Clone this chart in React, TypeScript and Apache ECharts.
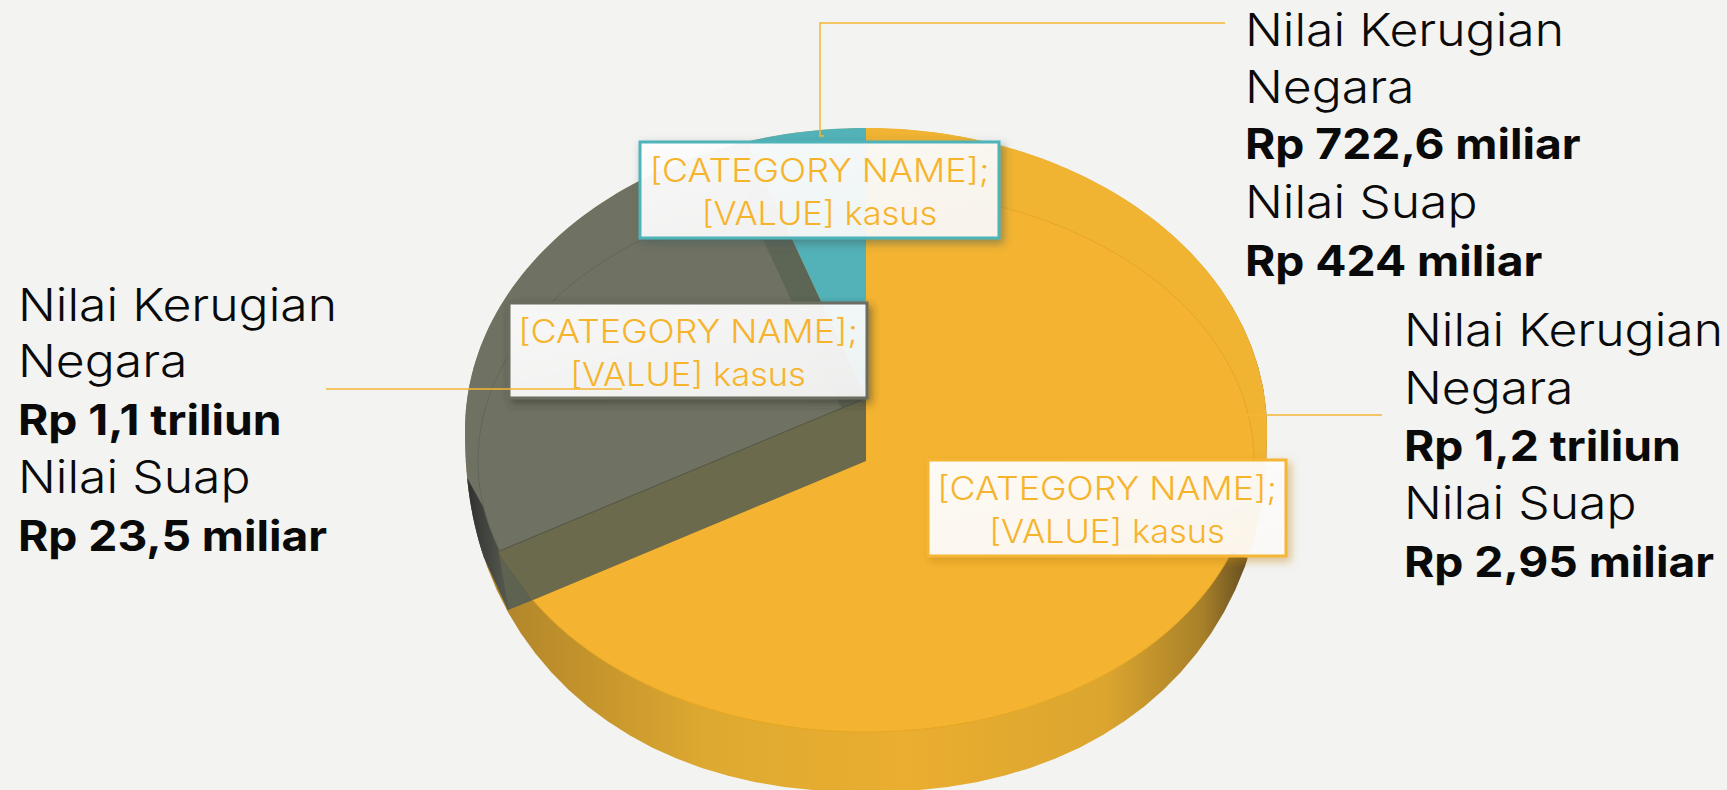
import React, { useEffect, useRef } from "react";
import * as echarts from "echarts";

// Slices (clockwise from 12 o'clock).
const sliceNames = ["Kategori A", "Kategori B", "Kategori C"];
const sliceValues = [93, 40, 7];
const sliceColors = ["#F4B431", "#6F7262", "#52B2B8"];

const labelLines = ["[CATEGORY NAME];", "[VALUE] kasus"];
const blockLeft = [["Nilai Kerugian", 0], ["Negara", 0], ["Rp 1,1 triliun", 1], ["Nilai Suap", 0], ["Rp 23,5 miliar", 1]];
const blockTop = [["Nilai Kerugian", 0], ["Negara", 0], ["Rp 722,6 miliar", 1], ["Nilai Suap", 0], ["Rp 424 miliar", 1]];
const blockRight = [["Nilai Kerugian", 0], ["Negara", 0], ["Rp 1,2 triliun", 1], ["Nilai Suap", 0], ["Rp 2,95 miliar", 1]];

const FONT = "Inter";
const BG = "#F3F3F1";
const CX = 866;
const FACE = { cy: 461, rx: 388, ry: 271 };
const SHELL = { apexY: 398, cy: 430, rx: 401, ryTop: 302, ryBottom: 362, n: 2.2 };
const FRONT_LIMIT = 121; // degrees at which the yellow back shell meets the front wall
const RIM_START = 254; // degrees at which the dark left rim starts

const rad = (d: number) => (d * Math.PI) / 180;
const facePoint = (deg: number, cy = FACE.cy): number[] => [
  CX + FACE.rx * Math.sin(rad(deg)),
  cy - FACE.ry * Math.cos(rad(deg)),
];
const inShell = (x: number, y: number) => {
  const dx = Math.abs(x - CX) / SHELL.rx;
  if (y < SHELL.cy) return dx * dx + ((SHELL.cy - y) / SHELL.ryTop) ** 2 <= 1;
  return dx ** SHELL.n + ((y - SHELL.cy) / SHELL.ryBottom) ** SHELL.n <= 1;
};
// ray from the apex, in the pie's flattened angle space, out to the silhouette
const shellPoint = (deg: number): number[] => {
  const ux = FACE.rx * Math.sin(rad(deg));
  const uy = -FACE.ry * Math.cos(rad(deg));
  let lo = 0;
  let hi = 2.5;
  for (let i = 0; i < 40; i++) {
    const m = (lo + hi) / 2;
    if (inShell(CX + ux * m, SHELL.apexY + uy * m)) lo = m;
    else hi = m;
  }
  return [CX + ux * lo, SHELL.apexY + uy * lo];
};
const arc = (fn: (d: number) => number[], a: number, b: number): number[][] => {
  const n = Math.max(2, Math.ceil(Math.abs(b - a) / 1.5));
  const out: number[][] = [];
  for (let i = 0; i <= n; i++) out.push(fn(a + ((b - a) * i) / n));
  return out;
};
const silhouette = (): number[][] => {
  const pts: number[][] = [];
  for (let i = 0; i <= 90; i++) {
    const t = rad(i * 4);
    const c = Math.cos(t);
    const s = Math.sin(t);
    if (s < 0) pts.push([CX + SHELL.rx * c, SHELL.cy + SHELL.ryTop * s]);
    else
      pts.push([
        CX + SHELL.rx * Math.sign(c) * Math.abs(c) ** (2 / SHELL.n),
        SHELL.cy + SHELL.ryBottom * s ** (2 / SHELL.n),
      ]);
  }
  return pts;
};
const poly = (points: number[][], fill: any, extra: any = {}) => ({
  type: "polygon",
  silent: true,
  shape: { points },
  style: { fill, ...extra },
});

const wallFill = {
  type: "linear", x: 0, y: 0, x2: 1, y2: 0,
  colorStops: [
    { offset: 0, color: "#A97F2A" },
    { offset: 0.12, color: "#BE8F2B" },
    { offset: 0.3, color: "#DEA931" },
    { offset: 0.55, color: "#EAAE30" },
    { offset: 0.8, color: "#DBA52F" },
    { offset: 0.92, color: "#A88029" },
    { offset: 0.98, color: "#5F4A20" },
    { offset: 1, color: "#4A3C1E" },
  ],
};
const rimFill = {
  type: "linear", x: 0, y: 0, x2: 1, y2: 0,
  colorStops: [
    { offset: 0, color: "#2F312F" },
    { offset: 1, color: "#565A50" },
  ],
};

const shellPointOnFace = (deg: number): number[] => {
  const ux = FACE.rx * Math.sin(rad(deg));
  const uy = -FACE.ry * Math.cos(rad(deg));
  return [CX + ux * 1.104, SHELL.apexY + uy * 1.104];
};

function renderSlice(params: any, api: any) {
  const i = params.dataIndex;
  const start = api.value(1);
  const end = api.value(2);
  const apex = [CX, SHELL.apexY];
  const center = [CX, FACE.cy];
  const children: any[] = [];
  if (i === 0) {
    children.push(poly(silhouette(), wallFill));
    children.push(poly([apex, ...arc(shellPoint, start, FRONT_LIMIT)], "#F0B332"));
    children.push(poly([center, ...arc(facePoint, start, end)], sliceColors[0]));
    children.push({
      type: "polyline", silent: true,
      shape: { points: arc(facePoint, 12, 250) },
      style: { fill: "none", stroke: "#E6A723", lineWidth: 1 },
    });
  } else if (i === 1) {
    const faceCorner = facePoint(start);
    const rimCorner = [faceCorner[0] - 25, faceCorner[1] + 10];
    const rimInner = shellPointOnFace(start);
    children.push(poly([apex, ...arc(shellPoint, start, end)], sliceColors[1]));
    // dark left rim of the pie, tapering upwards
    children.push(poly([...arc(shellPoint, RIM_START, start), rimCorner, rimInner, ...arc(facePoint, 251, 260)], rimFill));
    // the cut walls seen through the top
    children.push(poly([apex, center, facePoint(end), shellPoint(end)], "#5D6555"));
    children.push(poly([apex, center, faceCorner, rimInner], "#6C6A4C"));
    children.push(poly([rimInner, faceCorner, rimCorner], "#5E6250"));
    children.push({
      type: "polyline", silent: true,
      shape: { points: [apex, rimInner, rimCorner] },
      style: { fill: "none", stroke: "#4F5347", lineWidth: 1 },
    });
    children.push({
      type: "polyline", silent: true,
      shape: { points: arc(facePoint, start + 12, end - 2) },
      style: { fill: "none", stroke: "#62655A", lineWidth: 1 },
    });
  } else {
    children.push(poly([apex, ...arc(shellPoint, start, end)], sliceColors[2]));
  }
  return { type: "group", children };
}

const textEl = (x: number, y: number, text: string, bold: boolean) => ({
  type: "text",
  z: 120,
  x,
  y: y + (bold ? 2 : 1),
  scaleX: bold ? 1.1 : 1.108,
  silent: true,
  style: {
    text,
    fill: "#0A0A0A",
    font: `${bold ? 700 : 300} ${bold ? 42 : 45}px ${FONT}`,
    textVerticalAlign: "middle",
    textAlign: "left",
  },
});
const block = (rows: any[], x: number, ys: number[]) =>
  rows.map((r, i) => textEl(x, ys[i], r[0], !!r[1]));

const labelBox = (x: number, y: number, w: number, h: number, color: string, shadow: string) => [
  {
    type: "rect",
    z: 100,
    silent: true,
    shape: { x, y, width: w, height: h },
    style: {
      fill: {
        type: "linear", x: 0, y: 0, x2: 1, y2: 1,
        colorStops: [
          { offset: 0, color: "rgba(255,255,255,0.94)" },
          { offset: 1, color: "rgba(255,255,255,0.87)" },
        ],
      },
      stroke: color,
      lineWidth: 3,
      shadowBlur: 9,
      shadowOffsetX: 3,
      shadowOffsetY: 4,
      shadowColor: shadow,
    },
  },
  ...labelLines.map((t, i) => ({
    type: "text",
    z: 110,
    silent: true,
    x: x + w / 2,
    y: y + 28.5 + i * 43,
    scaleX: i === 0 ? 1.117 : 1.076,
    style: {
      text: t,
      fill: "#F6B42C",
      font: `300 32px ${FONT}`,
      textAlign: "center",
      textVerticalAlign: "middle",
    },
  })),
];
const leader = (points: number[][], z = 90) => ({
  type: "polyline",
  z,
  silent: true,
  shape: { points },
  style: { fill: "none", stroke: "#F5B634", lineWidth: 1.5 },
});

export default function App() {
  const ref = useRef<HTMLDivElement>(null);
  useEffect(() => {
    document.body.style.margin = "0";
    const chart = echarts.init(ref.current!, undefined, { renderer: "svg" });
    const total = sliceValues.reduce((a, b) => a + b, 0);
    let acc = 0;
    const rows = sliceValues.map((v) => {
      const s = (acc / total) * 360;
      acc += v;
      return [v, s, (acc / total) * 360];
    });
    chart.setOption({
      animation: false,
      backgroundColor: BG,
      series: [
        {
          type: "custom",
          coordinateSystem: "none",
          renderItem: renderSlice,
          silent: true,
          data: rows.map((r, i) => ({ name: sliceNames[i], value: r })),
        },
      ],
      graphic: {
        elements: [
          leader([[1225, 23], [820, 23], [820, 136], [824, 136]]),
          leader([[1123, 415], [1382, 415]]),
          ...labelBox(640, 142, 359, 96, "#4FB3BA", "rgba(60,90,90,0.55)"),
          ...labelBox(509, 303, 358, 95, "#6A6D60", "rgba(50,50,40,0.55)"),
          ...labelBox(928, 460, 358, 96, "#F6B634", "rgba(190,130,20,0.5)"),
          leader([[326, 389], [622, 389]], 115),
          ...block(blockLeft, 18, [303, 359, 418, 475, 534]),
          ...block(blockTop, 1245, [28, 85, 142, 200, 259]),
          ...block(blockRight, 1404, [328, 386, 444, 501, 560]),
        ],
      },
    });
    return () => chart.dispose();
  }, []);
  return <div ref={ref} style={{ width: 1727, height: 790 }} />;
}
